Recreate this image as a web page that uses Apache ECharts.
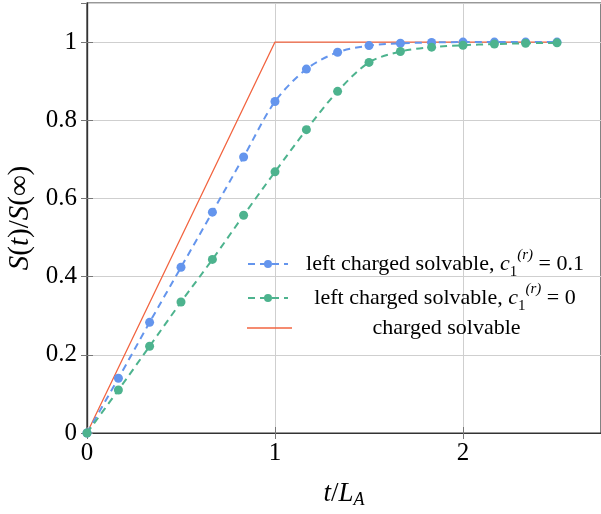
<!DOCTYPE html>
<html>
<head>
<meta charset="utf-8">
<script src="https://cdn.jsdelivr.net/npm/echarts@6/dist/echarts.min.js"></script>
<style>
  html, body { margin: 0; padding: 0; background: #fff; }
  #chart { width: 601px; height: 514px; }
</style>
</head>
<body>
<div id="chart"></div>
<script>
// t / L_A sample points
const tValues = [0, 0.167, 0.333, 0.5, 0.667, 0.833, 1, 1.167, 1.333, 1.5, 1.667, 1.833, 2, 2.167, 2.333, 2.5]
// left charged solvable, c1 = 0.1
const leftC01 = [0, 0.140, 0.283, 0.424, 0.565, 0.706, 0.848, 0.931, 0.974, 0.991, 0.997, 0.999, 1.0, 1.0, 1.0, 1.0]
// left charged solvable, c1 = 0
const leftC0 = [0, 0.110, 0.222, 0.335, 0.444, 0.557, 0.668, 0.776, 0.874, 0.948, 0.976, 0.987, 0.992, 0.995, 0.997, 0.998]
// charged solvable (piecewise linear)
const chargedT = [0, 1, 2.5]
const chargedS = [0, 1, 1]

const xTicks = [0, 1, 2]

const BLUE = '#6495ED'
const GREEN = '#4DB38E'
const RED = '#F26440'
const FONT = '"Liberation Serif", "DejaVu Serif", serif'

const chart = echarts.init(document.getElementById('chart'))

const pairs = (xs, ys) => xs.map((x, i) => [x, ys[i]])

const legendText = {
  t: { fontFamily: FONT, fontSize: 22, color: '#000', align: 'center' },
  i: { fontFamily: FONT, fontSize: 22, fontStyle: 'italic', color: '#000', align: 'center' },
  sub: { fontFamily: FONT, fontSize: 15, color: '#000', align: 'center', verticalAlign: 'bottom' },
  sup: { fontFamily: FONT, fontSize: 15, fontStyle: 'italic', color: '#000', align: 'center', verticalAlign: 'top' }
}

const makeLegend = (item, top, lineHeight, itemWidth) => ({
  data: [item],
  left: 247,
  top: top,
  padding: 0,
  orient: 'vertical',
  itemWidth: itemWidth,
  itemHeight: 10,
  selectedMode: false,
  formatter: function (n) {
    if (n === 'c01') return '{t|left charged solvable, }{i|c}{sub|1}{sup|(r)}{t| = 0.1}'
    if (n === 'c0') return '{t|left charged solvable, }{i|c}{sub|1}{sup|(r)}{t| = 0}'
    return '{t|charged solvable}'
  },
  textStyle: {
    width: 344 - itemWidth,
    lineHeight: lineHeight,
    rich: legendText
  }
})

const option = {
  animation: false,
  backgroundColor: '#fff',
  grid: {
    left: 87,
    top: 3,
    right: 0,
    bottom: 81,
    outerBoundsMode: 'none',
    show: true,
    borderColor: '#333',
    borderWidth: 1.2
  },
  legend: [
    makeLegend('c01', 248, 32, 40),
    makeLegend('c0', 282, 32, 40),
    makeLegend({ name: 'charged', icon: 'path://M0,0 h45 v1.3 h-45 Z' }, 316, 24, 45)
  ],
  xAxis: [{
    type: 'value',
    min: 0,
    max: 2.734,
    interval: 1,
    name: '{i|t}{n|/}{i|L}{s|A}',
    nameLocation: 'middle',
    nameGap: 46,
    nameTextStyle: {
      lineHeight: 30,
      rich: {
        i: { fontFamily: FONT, fontSize: 27, fontStyle: 'italic', color: '#000' },
        n: { fontFamily: FONT, fontSize: 27, color: '#000' },
        s: { fontFamily: FONT, fontSize: 18, fontStyle: 'italic', color: '#000', verticalAlign: 'bottom' }
      }
    },
    axisLine: { show: true, lineStyle: { color: '#333', width: 1.2 } },
    axisTick: { show: true, inside: true, length: 6, lineStyle: { color: '#777' } },
    axisLabel: {
      showMaxLabel: false,
      margin: 8,
      fontFamily: FONT,
      fontSize: 25,
      color: '#000',
      formatter: v => (xTicks.indexOf(v) >= 0 ? String(v) : '')
    },
    splitLine: { show: true, lineStyle: { color: '#cfcfcf', width: 1 } }
  }, {
    type: 'value',
    position: 'top',
    min: 0,
    max: 2.734,
    interval: 1,
    axisLine: { show: true, lineStyle: { color: '#333', width: 1.2 } },
    axisTick: { show: true, inside: true, length: 6, lineStyle: { color: '#777' } },
    axisLabel: { show: false },
    splitLine: { show: false }
  }],
  yAxis: [{
    type: 'value',
    min: 0,
    max: 1.1,
    interval: 0.2,
    name: '{i|S}{n|(}{i|t}{n|)/}{i|S}{n|(∞)}',
    nameLocation: 'middle',
    nameGap: 48,
    nameTextStyle: {
      rich: {
        i: { fontFamily: FONT, fontSize: 29, fontStyle: 'italic', color: '#000' },
        n: { fontFamily: FONT, fontSize: 29, color: '#000' }
      }
    },
    axisLine: { show: true, lineStyle: { color: '#333', width: 1.2 } },
    axisTick: { show: true, inside: true, length: 6, lineStyle: { color: '#777' } },
    axisLabel: {
      showMaxLabel: false,
      margin: 10,
      fontFamily: FONT,
      fontSize: 25,
      color: '#000'
    },
    splitLine: { show: true, lineStyle: { color: '#cfcfcf', width: 1 } }
  }, {
    type: 'value',
    position: 'right',
    min: 0,
    max: 1.1,
    interval: 0.2,
    axisLine: { show: true, lineStyle: { color: '#333', width: 1.2 } },
    axisTick: { show: true, inside: true, length: 6, lineStyle: { color: '#777' } },
    axisLabel: { show: false },
    splitLine: { show: false }
  }],
  series: [{
    name: 'charged',
    type: 'line',
    data: pairs(chargedT, chargedS),
    symbol: 'none',
    lineStyle: { color: RED, width: 1.3 },
    itemStyle: { color: RED },
    z: 1
  }, {
    name: 'c01',
    type: 'line',
    data: pairs(tValues, leftC01),
    smooth: 0.3,
    symbol: 'circle',
    symbolSize: 9,
    lineStyle: { color: BLUE, width: 2, type: [7, 5] },
    itemStyle: { color: BLUE },
    z: 2
  }, {
    name: 'c0',
    type: 'line',
    data: pairs(tValues, leftC0),
    smooth: 0.3,
    symbol: 'circle',
    symbolSize: 9,
    lineStyle: { color: GREEN, width: 2, type: [7, 5] },
    itemStyle: { color: GREEN },
    z: 3
  }]
}

chart.setOption(option)
</script>
</body>
</html>
